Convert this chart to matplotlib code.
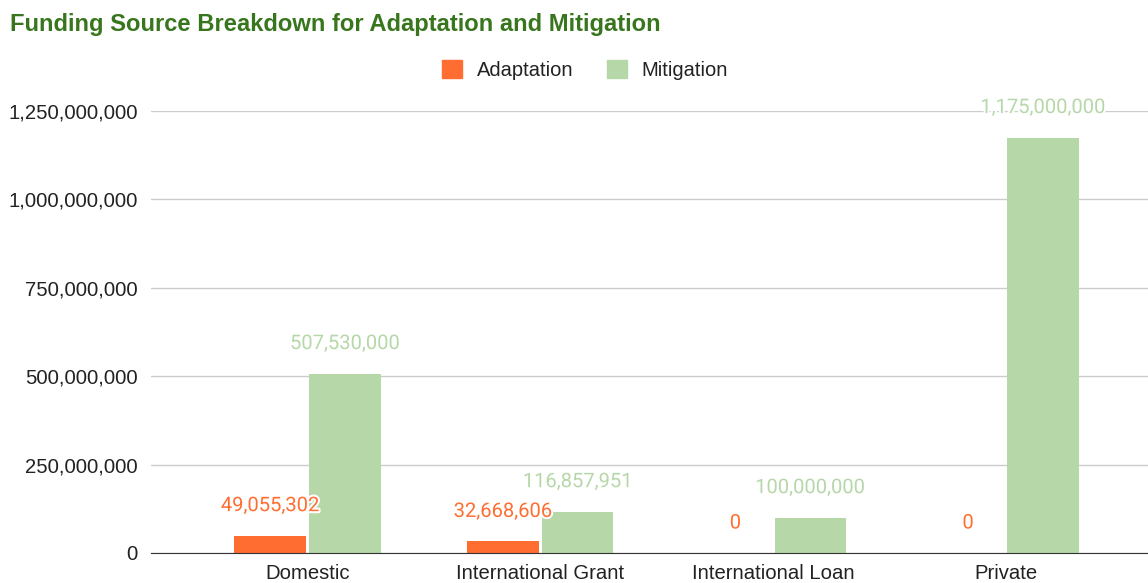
import matplotlib
matplotlib.use("Agg")
import matplotlib.pyplot as plt
from matplotlib.patches import Patch
import matplotlib.patheffects as pe
import numpy as np

categories = ["Domestic", "International Grant", "International Loan", "Private"]
adaptation = [49055302, 32668606, 0, 0]
mitigation = [507530000, 116857951, 100000000, 1175000000]
y_ticks = [0, 250000000, 500000000, 750000000, 1000000000, 1250000000]

orange = "#ff6d31"
green = "#b6d7a8"

plt.rcParams['font.family'] = ['Liberation Sans', 'DejaVu Sans']

fig = plt.figure(figsize=(11.48, 5.83), dpi=100)
ax = fig.add_axes([151/1148, 1-553/583, 1-151/1148, (553-111)/583])

x = np.arange(len(categories))
w = 0.308
off = 0.161
ax.bar(x - off, adaptation, w, color=orange, zorder=3)
ax.bar(x + off, mitigation, w, color=green, zorder=3)

# px -> data conversion for label offset (~30px above bar top)
px = 1250000000 / (553 - 111)
for i in range(len(categories)):
    for xs, vals, c in [(x[i] - off, adaptation, orange), (x[i] + off, mitigation, green)]:
        ax.text(xs, vals[i] + 30 * px, f"{vals[i]:,}", ha="center", va="center",
                color=c, fontsize=14.5, family=['Roboto', 'DejaVu Sans'], zorder=4, clip_on=False,
                path_effects=[pe.withStroke(linewidth=3, foreground="white")])

ax.set_xlim(-0.6725, 3.612)
ax.set_ylim(0, 1250000000)
ax.set_yticks(y_ticks)
ax.set_yticklabels([f"{v:,}" for v in y_ticks])
ax.set_xticks(x)
ax.set_xticklabels(categories)
ax.tick_params(axis='both', length=0, labelsize=14.6, colors="#222222")
ax.tick_params(axis='y', pad=9.5)
ax.tick_params(axis='x', pad=8)
ax.yaxis.grid(True, color="#cccccc", linewidth=1, zorder=0)
for s in ['top', 'right', 'left']:
    ax.spines[s].set_visible(False)
ax.spines['bottom'].set_color("#333333")
ax.spines['bottom'].set_zorder(5)

fig.text(10/1148, 1-25/583, "Funding Source Breakdown for Adaptation and Mitigation",
         fontsize=17.1, fontweight='bold', color="#38761d", va="center", ha="left")

handles = [Patch(color=orange, label="Adaptation"), Patch(color=green, label="Mitigation")]
fig.legend(handles=handles, loc="center", bbox_to_anchor=(0.5095, 1-70/583), ncol=2,
           frameon=False, fontsize=14.5, handlelength=1.0, handleheight=1.0,
           columnspacing=1.65, handletextpad=0.75, labelcolor="#222222")

fig.savefig("out.png", dpi=100)
